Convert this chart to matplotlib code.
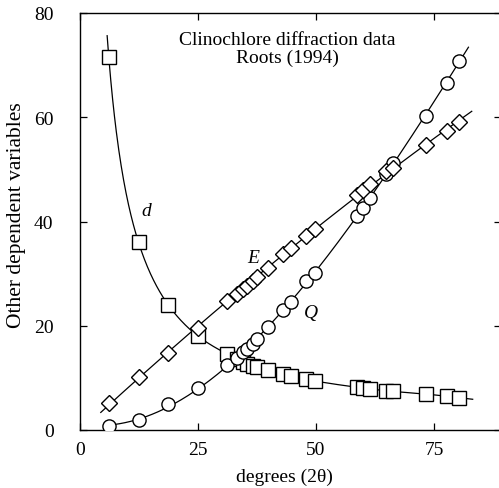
import numpy as np
import matplotlib
matplotlib.use("Agg")
import matplotlib.pyplot as plt

plt.rcParams['font.family'] = ['Liberation Serif', 'DejaVu Serif']

# ---- data ----
two_theta = [6.1, 12.4, 18.7, 25.0, 31.2, 33.3, 34.5, 35.3, 36.6, 37.6, 39.8,
             43.1, 44.6, 47.9, 49.8, 58.7, 59.9, 61.4, 64.9, 66.4, 73.3, 77.7, 80.3]
d_vals = [71.5, 36.0, 24.0, 18.0, 14.6, 13.6, 13.0, 12.7, 12.3, 12.0, 11.5,
          10.7, 10.4, 9.7, 9.4, 8.2, 8.1, 7.9, 7.5, 7.4, 6.9, 6.5, 6.2]
E_vals = [5.2, 10.1, 14.8, 19.6, 24.8, 26.1, 27.0, 27.6, 28.5, 29.4, 31.1,
          33.8, 35.0, 37.3, 38.6, 45.0, 46.0, 47.1, 49.7, 50.3, 54.7, 57.4, 59.0]
Q_vals = [0.8, 2.0, 4.9, 8.0, 12.4, 13.9, 14.9, 15.5, 16.5, 17.5, 19.7,
          23.0, 24.6, 28.5, 30.2, 41.1, 42.6, 44.6, 49.2, 51.3, 60.2, 66.6, 70.8]

title_lines = ["Clinochlore diffraction data", "Roots (1994)"]
x_ticks = [0, 25, 50, 75]
y_ticks = [0, 20, 40, 60, 80]

x = np.array(two_theta)
d = np.array(d_vals)
E = np.array(E_vals)
Q = np.array(Q_vals)

fig = plt.figure(figsize=(4.99, 4.89), dpi=100)
# right spine lies just beyond the right edge of the picture
ax = fig.add_axes([80 / 499, 58 / 489, 421 / 499, 417 / 489])

lw = 0.9


def extended_interp(xs, ys, xnew):
    """piecewise-linear through the data, extended linearly past both ends"""
    out = np.interp(xnew, xs, ys)
    lo = xnew < xs[0]
    hi = xnew > xs[-1]
    s0 = (ys[1] - ys[0]) / (xs[1] - xs[0])
    s1 = (ys[-1] - ys[-2]) / (xs[-1] - xs[-2])
    out[lo] = ys[0] + s0 * (xnew[lo] - xs[0])
    out[hi] = ys[-1] + s1 * (xnew[hi] - xs[-1])
    return out


# d curve: smooth through the points (interpolated in 1/d)
xd = np.linspace(5.75, 83.2, 600)
ax.plot(xd, 1.0 / extended_interp(x, 1.0 / d, xd), color='black', lw=lw, zorder=1)

xe = np.linspace(4.4, 83.0, 200)
pe = np.polyfit(x, E, 2)
ax.plot(xe, np.polyval(pe, xe), color='black', lw=lw, zorder=1)

xq = np.linspace(6.1, 82.3, 200)
pq = np.polyfit(x, Q, 3)
ax.plot(xq, np.polyval(pq, xq), color='black', lw=lw, zorder=1)

mk = dict(linestyle='none', markerfacecolor='white', markeredgecolor='black',
          markeredgewidth=1.0, zorder=3)
ax.plot(x, d, marker='s', markersize=10, **mk)
ax.plot(x, Q, marker='o', markersize=9.5, **mk)
ax.plot(x, E, marker='D', markersize=7.8, **mk)

ax.text(14.1, 42.1, 'd', fontstyle='italic', fontsize=14, ha='center', va='center')
ax.text(36.7, 33.1, 'E', fontstyle='italic', fontsize=14, ha='center', va='center')
ax.text(48.9, 22.6, 'Q', fontstyle='italic', fontsize=14, ha='center', va='center')

ax.text(44.0, 75.0, title_lines[0], fontsize=14, ha='center', va='center')
ax.text(44.0, 71.5, title_lines[1], fontsize=14, ha='center', va='center')

ax.set_xlim(0, 89.2)
ax.set_ylim(0, 80)
ax.set_xticks(x_ticks)
ax.set_yticks(y_ticks)
ax.tick_params(direction='in', length=5, width=0.9, labelsize=14,
               top=True, right=True)
ax.tick_params(axis='y', pad=19)
ax.tick_params(axis='x', pad=8)
for s in ax.spines.values():
    s.set_linewidth(1.0)

ax.set_xlabel('degrees (2θ)', fontsize=14)
ax.set_ylabel('Other dependent variables', fontsize=15.5)
ax.xaxis.set_label_coords((284 - 80) / 421, -(477 - 431) / 417, transform=ax.transAxes)
ax.xaxis.label.set_va('center')
ax.yaxis.set_label_coords(-(80 - 17) / 421, (431 - 215) / 417, transform=ax.transAxes)
ax.yaxis.label.set_va('center')

fig.savefig('out.png', dpi=100)
